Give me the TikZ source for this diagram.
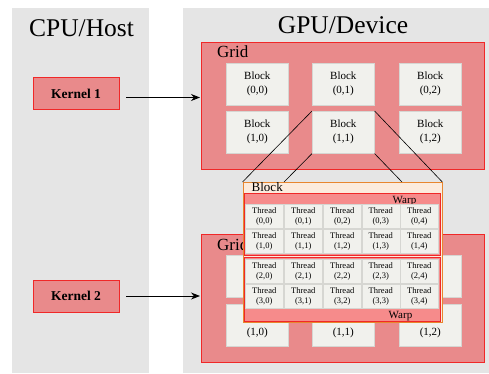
\documentclass[tikz,border=0pt]{standalone}
\usepackage{fontspec}
\setmainfont{Liberation Serif}
\usetikzlibrary{arrows.meta}
\definecolor{panelc}{HTML}{E5E5E5}
\definecolor{gridfill}{HTML}{E98A8B}
\definecolor{gridline}{HTML}{F02828}
\definecolor{blockfill}{HTML}{F1F1ED}
\definecolor{blockline}{HTML}{D6D6D2}
\definecolor{ovfill}{HTML}{FCEBDD}
\definecolor{ovline}{HTML}{E8862E}
\definecolor{warpfill}{HTML}{F68B8B}
\begin{document}
\begin{tikzpicture}[x=1pt,y=-1pt,
  gridbox/.style={fill=gridfill,draw=gridline,line width=0.9pt},
  blockbox/.style={fill=blockfill,draw=blockline,line width=0.6pt,anchor=north west,
    minimum width=62pt,minimum height=42pt,inner sep=0pt,align=center,
    font=\fontsize{11}{14}\selectfont},
  kernelbox/.style={fill=gridfill,draw=gridline,line width=0.9pt,
    minimum width=86pt,minimum height=32pt,inner sep=0pt},
  kerneltext/.style={anchor=base,inner sep=0pt,font=\fontsize{13.5}{16}\selectfont\bfseries},
  threadbox/.style={fill=blockfill,draw=blockline,line width=0.5pt,anchor=north west,
    minimum width=38pt,minimum height=24pt,inner sep=0pt,align=center,
    font=\fontsize{8.5}{10}\selectfont},
  warpbox/.style={fill=warpfill,draw=gridline,line width=0.8pt},
  title/.style={anchor=base,inner sep=0pt,font=\fontsize{25.5}{30}\selectfont},
  gridtext/.style={anchor=base west,inner sep=0pt,font=\fontsize{17}{20}\selectfont},
  warptext/.style={anchor=base,inner sep=0pt,font=\fontsize{11}{13}\selectfont},
  arr/.style={-{Stealth[length=9pt,width=7pt]},line width=1pt},
  link/.style={line width=0.6pt,black}]
\useasboundingbox (0,0) rectangle (489,373);
% panels
\fill[panelc] (12,8) rectangle (149,373);
\fill[panelc] (183,8) rectangle (489,373);
\node[title] (cpu) at (81.5,36.5) {CPU/Host};
\node[title] (gpu) at (343,33) {GPU/Device};
% grid 1
\node[gridbox,anchor=north west,minimum width=283pt,minimum height=127pt,inner sep=0pt] (g1) at (201,42) {};
\node[gridtext] (g1l) at (217,57) {Grid};
\node[blockbox] (b00) at (226,63) {Block\\(0,0)};
\node[blockbox] (b01) at (312,63) {Block\\(0,1)};
\node[blockbox] (b02) at (399,63) {Block\\(0,2)};
\node[blockbox] (b10) at (226,111) {Block\\(1,0)};
\node[blockbox] (b11) at (312,111) {Block\\(1,1)};
\node[blockbox] (b12) at (399,111) {Block\\(1,2)};
% grid 2
\node[gridbox,anchor=north west,minimum width=283pt,minimum height=128pt,inner sep=0pt] (g2) at (201,234) {};
\node[gridtext] (g2l) at (217,250) {Grid};
\node[blockbox] (c00) at (226,255) {};
\node[blockbox] (c01) at (312,255) {};
\node[blockbox] (c02) at (399,255) {};
\node[blockbox] (c10) at (226,304) {};
\node[blockbox] (c11) at (312,304) {};
\node[blockbox] (c12) at (399,304) {};
\node[font=\fontsize{11}{14}\selectfont,inner sep=0pt] (c10l) at ([yshift=-8pt]c10.center) {(1,0)};
\node[font=\fontsize{11}{14}\selectfont,inner sep=0pt] (c11l) at ([yshift=-8pt]c11.center) {(1,1)};
\node[font=\fontsize{11}{14}\selectfont,inner sep=0pt] (c12l) at ([yshift=-8pt]c12.center) {(1,2)};
% kernels
\node[kernelbox] (k1) at (76,93) {};
\node[kerneltext] (k1t) at (76,98) {Kernel 1};
\node[kernelbox] (k2) at (76,296) {};
\node[kerneltext] (k2t) at (76,300.5) {Kernel 2};
\coordinate (a1) at ([xshift=7pt,yshift=-4.5pt]k1.east);
\coordinate (a2) at ([xshift=7pt]k2.east);
\draw[arr] (a1) -- ([xshift=-1pt]a1 -| g1.west);
\draw[arr] (a2) -- ([xshift=-1pt]a2 -| g2.west);
% overlay block
\node[fill=ovfill,draw=ovline,line width=0.8pt,anchor=north west,minimum width=199pt,minimum height=140pt,inner sep=0pt] (ov) at (242.5,182) {};
\coordinate (o2) at (284,182);
\coordinate (o3) at (402,182);
\draw[link] (b11.north west) -- (ov.north west);
\draw[link] (b11.south west) -- (o2);
\draw[link] (b11.south east) -- (o3);
\draw[link] (b11.north east) -- (ov.north east);
% warps
\node[warpbox,anchor=north west,minimum width=196pt,minimum height=62pt,inner sep=0pt] (w1) at (244,193) {};
\node[warpbox,anchor=north west,minimum width=196pt,minimum height=64pt,inner sep=0pt] (w2) at (244,257) {};
\node[anchor=base west,font=\fontsize{13}{15}\selectfont,inner sep=0pt] (ovl) at (251.5,191.5) {Block};
\node[warptext] (w1l) at (404.5,203) {Warp};
\node[warptext] (w2l) at (400.5,318) {Warp};
% threads
\foreach \c/\x in {0/245,1/284,2/323,3/361.5,4/400}{
  \foreach \r/\y in {0/204,1/229,2/259,3/284}{
    \node[threadbox] (t\r\c) at (\x,\y) {Thread\\(\r,\c)};
  }
}
\end{tikzpicture}
\end{document}
